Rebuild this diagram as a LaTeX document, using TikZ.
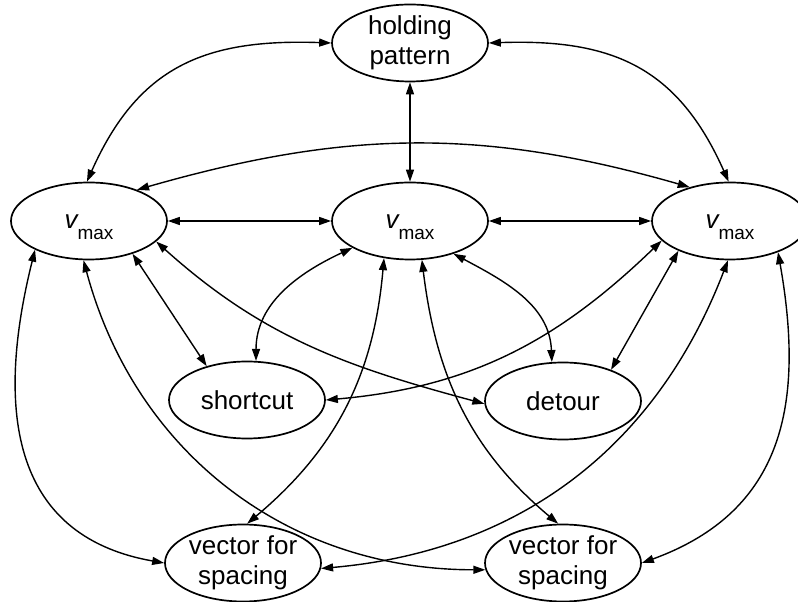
\documentclass[tikz,border=0pt]{standalone}
\usepackage{fontspec}
\setmainfont{Liberation Sans}
\usetikzlibrary{shapes.geometric,arrows.meta}
\newcommand\vmx{{\itshape v}{\fontsize{19}{20}\selectfont\raisebox{-10.5pt}{max}}}
\begin{document}
\begin{tikzpicture}[x=1pt,y=1pt,
  st/.style={ellipse, draw, line width=1.7pt, minimum width=156pt, minimum height=77pt,
    inner sep=0pt, align=center, font=\fontsize{26}{30}\selectfont},
  vm/.style={st, text height=16pt, text depth=0pt},
  lk/.style={line width=1.4pt, {Triangle[length=12pt,width=8pt]}-{Triangle[length=12pt,width=8pt]}}]
\clip (0,0) rectangle (798,602);
\node[st] (hp) at (410,559) {holding\\pattern};
\node[vm] (vL) at (89,381) {\vmx};
\node[vm] (vC) at (410,381) {\vmx};
\node[vm] (vR) at (730,381) {\vmx};
\node[st] (sc) at (247,202) {shortcut};
\node[st] (dt) at (563,201) {detour};
\node[st] (vsL) at (243,39) {vector for\\spacing};
\node[st] (vsR) at (563,39) {vector for\\spacing};
\draw[lk] (hp.west) to[out=178, in=66, looseness=1.15] (vL.93);
\draw[lk] (hp.east) to[out=2, in=114, looseness=1.15] (vR.92);
\draw[lk] (hp.south) -- (vC.north);
\draw[lk] (vL.33) to[out=16, in=164] (vR.140);
\draw[lk] (vL.east) -- (vC.west);
\draw[lk] (vC.east) -- (vR.west);
\draw[lk] (vL.-37) -- (sc.140);
\draw[lk] (vL.-17) to[out=-42, in=165] (dt.182);
\draw[lk] (vC.205) to[out=205, in=90] (sc.77);
\draw[lk] (vC.-37) to[out=-28, in=92] (dt.106);
\draw[lk] (vR.196) to[out=224, in=5] (sc.east);
\draw[lk] (vR.210) -- (dt.33);
\draw[lk] (vL.208) to[out=256, in=170, looseness=1.2] (vsL.west);
\draw[lk] (vL.-98) to[out=-75, in=180] (vsR.185);
\draw[lk] (vC.235) to[out=265, in=40] (vsL.84);
\draw[lk] (vC.-73) to[out=-83, in=140] (vsR.97);
\draw[lk] (vR.267) to[out=249, in=5] (vsL.-4);
\draw[lk] (vR.-33) to[out=-80, in=20, looseness=1.15] (vsR.east);
\end{tikzpicture}
\end{document}
